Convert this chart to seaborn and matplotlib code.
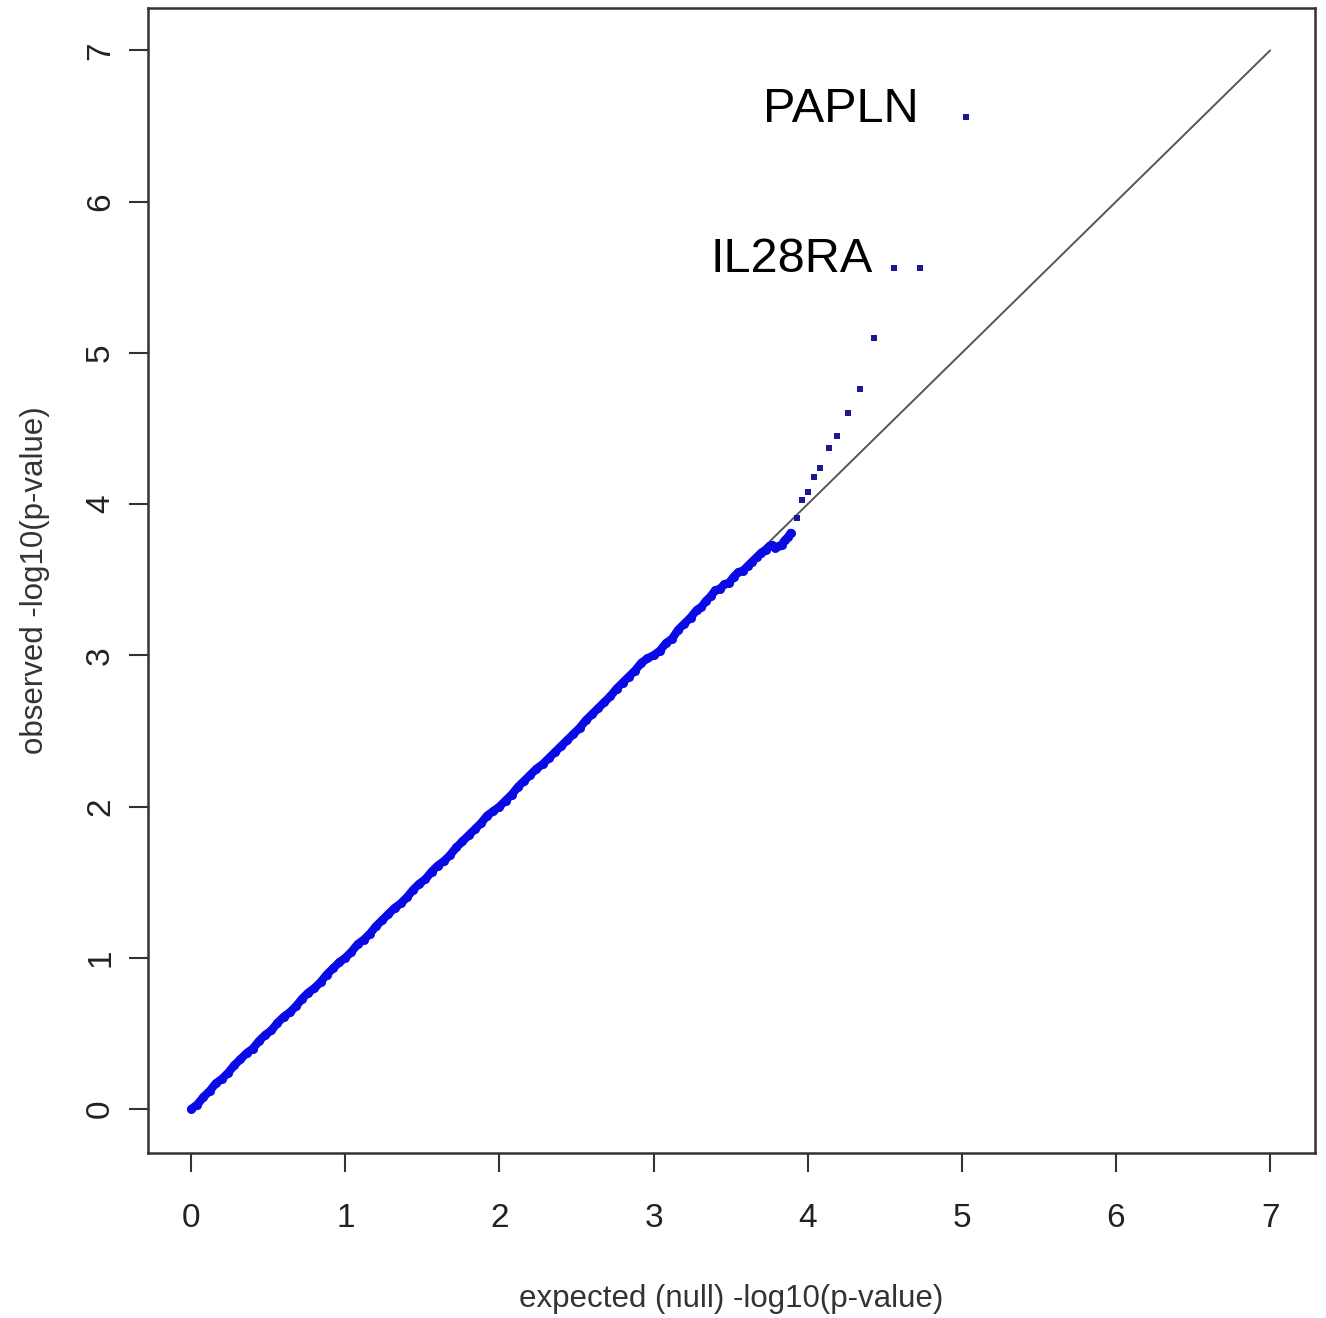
import pandas as pd
import seaborn as sns
import matplotlib.pyplot as plt

# QQ plot values (expected vs observed -log10 p)
body_expected = [0.00, 0.04, 0.08, 0.12, 0.16, 0.20, 0.24, 0.28, 0.32, 0.36,
                 0.40, 0.44, 0.48, 0.52, 0.56, 0.60, 0.64, 0.68, 0.72, 0.76,
                 0.80, 0.84, 0.88, 0.92, 0.96, 1.00, 1.04, 1.08, 1.12, 1.16,
                 1.20, 1.24, 1.28, 1.32, 1.36, 1.40, 1.44, 1.48, 1.52, 1.56,
                 1.60, 1.64, 1.68, 1.72, 1.76, 1.80, 1.84, 1.88, 1.92, 1.96,
                 2.00, 2.04, 2.08, 2.12, 2.16, 2.20, 2.24, 2.28, 2.32, 2.36,
                 2.40, 2.44, 2.48, 2.52, 2.56, 2.60, 2.64, 2.68, 2.72, 2.76,
                 2.80, 2.84, 2.88, 2.92, 2.96,
                 3.00, 3.04, 3.08, 3.12, 3.16, 3.20, 3.24, 3.28, 3.31, 3.34,
                 3.37, 3.40, 3.43, 3.46, 3.49, 3.52, 3.55, 3.58, 3.61, 3.64,
                 3.67, 3.70, 3.73, 3.75, 3.77, 3.79, 3.81, 3.83, 3.85, 3.87, 3.89]
body_observed = [0.00, 0.03, 0.08, 0.12, 0.17, 0.20, 0.24, 0.29, 0.33, 0.37,
                 0.40, 0.45, 0.49, 0.52, 0.57, 0.61, 0.64, 0.68, 0.73, 0.77,
                 0.80, 0.84, 0.89, 0.93, 0.97, 1.00, 1.04, 1.09, 1.12, 1.16,
                 1.21, 1.25, 1.29, 1.33, 1.36, 1.40, 1.45, 1.49, 1.52, 1.57,
                 1.61, 1.64, 1.68, 1.73, 1.77, 1.81, 1.85, 1.89, 1.94, 1.97,
                 2.00, 2.04, 2.08, 2.13, 2.17, 2.21, 2.25, 2.28, 2.32, 2.36,
                 2.40, 2.44, 2.48, 2.52, 2.57, 2.61, 2.65, 2.69, 2.73, 2.78,
                 2.82, 2.86, 2.90, 2.95, 2.98,
                 3.00, 3.03, 3.08, 3.11, 3.17, 3.21, 3.25, 3.30, 3.32, 3.36,
                 3.39, 3.43, 3.44, 3.47, 3.48, 3.52, 3.55, 3.56, 3.59, 3.62,
                 3.65, 3.68, 3.70, 3.72, 3.73, 3.71, 3.72, 3.73, 3.76, 3.78, 3.81]

tail_expected = [3.93, 3.96, 4.00, 4.04, 4.08, 4.14, 4.19, 4.26, 4.34, 4.43, 4.56, 4.73, 5.03]
tail_observed = [3.91, 4.03, 4.08, 4.18, 4.24, 4.37, 4.45, 4.60, 4.76, 5.10, 5.56, 5.56, 6.56]

gene_labels = ["PAPLN", "IL28RA"]
gene_label_x = [4.72, 4.42]
gene_label_y = [6.61, 5.62]

diag = [0, 7]
ticks = [0, 1, 2, 3, 4, 5, 6, 7]

body = pd.DataFrame({"expected": body_expected, "observed": body_observed})
tail = pd.DataFrame({"expected": tail_expected, "observed": tail_observed})

sns.set_style("ticks")
plt.rcParams["font.family"] = ["Liberation Sans", "DejaVu Sans"]

fig = plt.figure(figsize=(13.26, 13.18), dpi=100)
ax = fig.add_axes([0.1116, 0.1252, 0.880, 0.8687])

ax.plot(diag, diag, color="#555555", linewidth=1.4, zorder=1)

# dense body of points: thick trace plus the points themselves
sns.lineplot(data=body, x="expected", y="observed", ax=ax, sort=False,
             color="#0a0ae6", linewidth=6.0, zorder=2)
sns.scatterplot(data=body, x="expected", y="observed", ax=ax,
                color="#0a0ae6", s=42, linewidth=0, zorder=3)
sns.scatterplot(data=tail, x="expected", y="observed", ax=ax,
                color="#1a1a8c", s=25, marker="s", linewidth=0, zorder=3)

for lab, lx, ly in zip(gene_labels, gene_label_x, gene_label_y):
    ax.text(lx, ly, lab, ha="right", va="center", fontsize=35, color="black")

ax.set_xlim(-0.28, 7.29)
ax.set_ylim(-0.29, 7.28)
ax.set_xticks(ticks)
ax.set_yticks(ticks)
ax.set_yticklabels([str(t) for t in ticks], rotation=90, va="center")

ax.tick_params(axis="both", direction="out", length=14, width=1.5,
               colors="#333333", labelsize=24, labelcolor="#222222",
               bottom=True, left=True)
ax.tick_params(axis="x", pad=22)
ax.tick_params(axis="y", pad=9)
for sp in ax.spines.values():
    sp.set_color("#333333")
    sp.set_linewidth(1.8)

ax.set_xlabel("expected (null) -log10(p-value)", fontsize=22.5, color="#333333", labelpad=36)
ax.set_ylabel("observed -log10(p-value)", fontsize=22.5, color="#333333", labelpad=25.5)

fig.savefig("out.png", dpi=100)
